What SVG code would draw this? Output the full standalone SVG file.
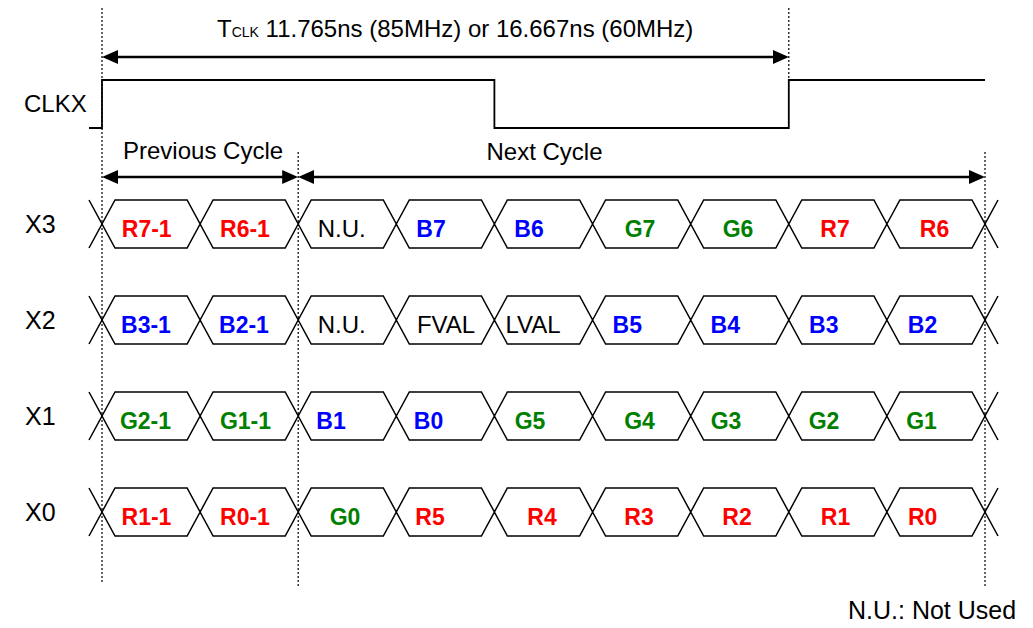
<svg xmlns="http://www.w3.org/2000/svg" width="1033" height="628" viewBox="0 0 1033 628">
<style>
text{font-family:"Liberation Sans",Arial,sans-serif;fill:#000}
.lbl{font-size:24px}
.rl{font-size:25px}
.c{font-size:23px;font-weight:bold;text-anchor:middle}
.n{font-size:24px;text-anchor:middle}
.r{fill:#FF0000}.b{fill:#0000FF}.g{fill:#008000}
.cell{fill:none;stroke:#000;stroke-width:1.5;stroke-linejoin:miter}
.dot{stroke:#000;stroke-width:1.2;stroke-dasharray:2 2;fill:none}
.arr{stroke:#000;stroke-width:2.5;fill:none;marker-start:url(#ah);marker-end:url(#ah)}
.clk{fill:none;stroke:#000;stroke-width:1.8}
</style>
<defs>
<marker id="ah" viewBox="0 0 16 14" refX="6" refY="7" markerWidth="16" markerHeight="14" markerUnits="userSpaceOnUse" orient="auto-start-reverse">
<path d="M0,0 L16,7 L0,14 z" fill="#000"/>
</marker>
</defs>
<rect width="1033" height="628" fill="#fff"/>
<g id="guides">
<line class="dot" x1="102" y1="8" x2="102" y2="583"/>
<line class="dot" x1="298.2" y1="152" x2="298.2" y2="586"/>
<line class="dot" x1="788.8" y1="8" x2="788.8" y2="80"/>
<line class="dot" x1="985" y1="152" x2="985" y2="586"/>
</g>
<g id="connectors">
<line class="arr" x1="112" y1="57" x2="778.8" y2="57"/>
<line class="arr" x1="112" y1="177" x2="288.2" y2="177"/>
<line class="arr" x1="308.2" y1="177" x2="975" y2="177"/>
</g>
<g id="period-label">
<text class="lbl" x="217" y="37">T<tspan font-size="14">CLK</tspan> 11.765ns (85MHz) or 16.667ns (60MHz)</text>
</g>
<g id="clkx">
<text class="lbl" x="24" y="112">CLKX</text>
<path class="clk" d="M89,128 H102 V80 H494.4 V128 H788.8 V80 H985"/>
</g>
<g id="cycles">
<text class="lbl" x="123" y="159">Previous Cycle</text>
<text class="lbl" x="486.5" y="160">Next Cycle</text>
</g>
<g id="row-x3">
<text class="rl" x="25" y="233">X3</text>
<path class="cell" d="M89,200 L102,224 L89,248 M998,200 L985,224 L998,248"/>
<path class="cell" d="M102,224 L115,200 H187.1 L200.1,224 L187.1,248 H115 Z M200.1,224 L213.1,200 H285.2 L298.2,224 L285.2,248 H213.1 Z M298.2,224 L311.2,200 H383.3 L396.3,224 L383.3,248 H311.2 Z M396.3,224 L409.3,200 H481.4 L494.4,224 L481.4,248 H409.3 Z M494.4,224 L507.4,200 H579.6 L592.6,224 L579.6,248 H507.4 Z M592.6,224 L605.6,200 H677.7 L690.7,224 L677.7,248 H605.6 Z M690.7,224 L703.7,200 H775.8 L788.8,224 L775.8,248 H703.7 Z M788.8,224 L801.8,200 H873.9 L886.9,224 L873.9,248 H801.8 Z M886.9,224 L899.9,200 H972 L985,224 L972,248 H899.9 Z"/>
<text class="c r" x="146.7" y="236.5">R7-1</text>
<text class="c r" x="245" y="236.5">R6-1</text>
<text class="n" x="341.7" y="236.5">N.U.</text>
<text class="c b" x="431" y="236.5">B7</text>
<text class="c b" x="529" y="236.5">B6</text>
<text class="c g" x="640" y="236.5">G7</text>
<text class="c g" x="738" y="236.5">G6</text>
<text class="c r" x="835" y="236.5">R7</text>
<text class="c r" x="934.5" y="236.5">R6</text>
</g>
<g id="row-x2">
<text class="rl" x="25" y="329">X2</text>
<path class="cell" d="M89,296 L102,320 L89,344 M998,296 L985,320 L998,344"/>
<path class="cell" d="M102,320 L115,296 H187.1 L200.1,320 L187.1,344 H115 Z M200.1,320 L213.1,296 H285.2 L298.2,320 L285.2,344 H213.1 Z M298.2,320 L311.2,296 H383.3 L396.3,320 L383.3,344 H311.2 Z M396.3,320 L409.3,296 H481.4 L494.4,320 L481.4,344 H409.3 Z M494.4,320 L507.4,296 H579.6 L592.6,320 L579.6,344 H507.4 Z M592.6,320 L605.6,296 H677.7 L690.7,320 L677.7,344 H605.6 Z M690.7,320 L703.7,296 H775.8 L788.8,320 L775.8,344 H703.7 Z M788.8,320 L801.8,296 H873.9 L886.9,320 L873.9,344 H801.8 Z M886.9,320 L899.9,296 H972 L985,320 L972,344 H899.9 Z"/>
<text class="c b" x="146" y="332.5">B3-1</text>
<text class="c b" x="244" y="332.5">B2-1</text>
<text class="n" x="341.7" y="332.5">N.U.</text>
<text class="n" x="446" y="332.5">FVAL</text>
<text class="n" x="533" y="332.5">LVAL</text>
<text class="c b" x="627.3" y="332.5">B5</text>
<text class="c b" x="725.3" y="332.5">B4</text>
<text class="c b" x="823.8" y="332.5">B3</text>
<text class="c b" x="922.5" y="332.5">B2</text>
</g>
<g id="row-x1">
<text class="rl" x="25" y="425">X1</text>
<path class="cell" d="M89,392 L102,416 L89,440 M998,392 L985,416 L998,440"/>
<path class="cell" d="M102,416 L115,392 H187.1 L200.1,416 L187.1,440 H115 Z M200.1,416 L213.1,392 H285.2 L298.2,416 L285.2,440 H213.1 Z M298.2,416 L311.2,392 H383.3 L396.3,416 L383.3,440 H311.2 Z M396.3,416 L409.3,392 H481.4 L494.4,416 L481.4,440 H409.3 Z M494.4,416 L507.4,392 H579.6 L592.6,416 L579.6,440 H507.4 Z M592.6,416 L605.6,392 H677.7 L690.7,416 L677.7,440 H605.6 Z M690.7,416 L703.7,392 H775.8 L788.8,416 L775.8,440 H703.7 Z M788.8,416 L801.8,392 H873.9 L886.9,416 L873.9,440 H801.8 Z M886.9,416 L899.9,392 H972 L985,416 L972,440 H899.9 Z"/>
<text class="c g" x="145.5" y="428.5">G2-1</text>
<text class="c g" x="245.5" y="428.5">G1-1</text>
<text class="c b" x="331" y="428.5">B1</text>
<text class="c b" x="428.5" y="428.5">B0</text>
<text class="c g" x="530" y="428.5">G5</text>
<text class="c g" x="639.5" y="428.5">G4</text>
<text class="c g" x="726" y="428.5">G3</text>
<text class="c g" x="824" y="428.5">G2</text>
<text class="c g" x="921.5" y="428.5">G1</text>
</g>
<g id="row-x0">
<text class="rl" x="25" y="521">X0</text>
<path class="cell" d="M89,488 L102,512 L89,536 M998,488 L985,512 L998,536"/>
<path class="cell" d="M102,512 L115,488 H187.1 L200.1,512 L187.1,536 H115 Z M200.1,512 L213.1,488 H285.2 L298.2,512 L285.2,536 H213.1 Z M298.2,512 L311.2,488 H383.3 L396.3,512 L383.3,536 H311.2 Z M396.3,512 L409.3,488 H481.4 L494.4,512 L481.4,536 H409.3 Z M494.4,512 L507.4,488 H579.6 L592.6,512 L579.6,536 H507.4 Z M592.6,512 L605.6,488 H677.7 L690.7,512 L677.7,536 H605.6 Z M690.7,512 L703.7,488 H775.8 L788.8,512 L775.8,536 H703.7 Z M788.8,512 L801.8,488 H873.9 L886.9,512 L873.9,536 H801.8 Z M886.9,512 L899.9,488 H972 L985,512 L972,536 H899.9 Z"/>
<text class="c r" x="146.5" y="524.5">R1-1</text>
<text class="c r" x="245" y="524.5">R0-1</text>
<text class="c g" x="345" y="524.5">G0</text>
<text class="c r" x="430" y="524.5">R5</text>
<text class="c r" x="542" y="524.5">R4</text>
<text class="c r" x="639" y="524.5">R3</text>
<text class="c r" x="737" y="524.5">R2</text>
<text class="c r" x="835.5" y="524.5">R1</text>
<text class="c r" x="922.7" y="524.5">R0</text>
</g>
<g id="note">
<text class="rl" x="848" y="619">N.U.: Not Used</text>
</g>
</svg>
